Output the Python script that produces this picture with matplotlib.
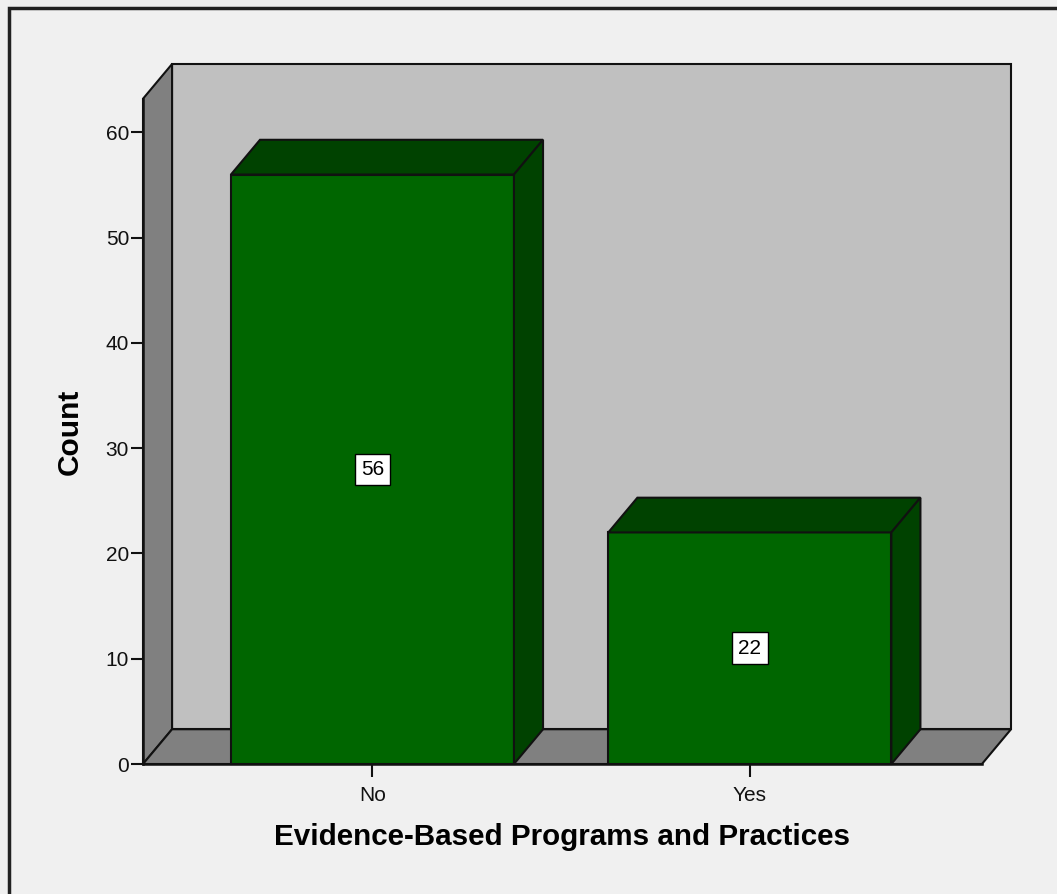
import matplotlib.pyplot as plt
from matplotlib.patches import Polygon, Rectangle
from matplotlib import transforms

plt.rcParams["font.family"] = ["Liberation Sans", "DejaVu Sans"]

categories = ["No", "Yes"]
counts = [56, 22]
y_ticks = [0, 10, 20, 30, 40, 50, 60]
x_label = "Evidence-Based Programs and Practices"
y_label = "Count"

# box geometry in data units
x_lo, x_hi = -0.608, 1.615
y_top = 63.2
dx, dy = 0.077, 3.3
bar_width = 0.75

wall_color = "#c0c0c0"
side_color = "#808080"
bar_front = "#006600"
bar_shade = "#004200"
edge = "#111111"


def face(ax, pts, color, z=1):
    ax.add_patch(Polygon(pts, closed=True, facecolor=color, edgecolor=edge,
                         linewidth=1.5, joinstyle="miter", zorder=z, clip_on=False))


fig = plt.figure(figsize=(10.57, 8.94), dpi=100, facecolor="#f0f0f0")

# outer frame, runs off the right and bottom edges
fig.patches.append(Rectangle((9 / 1057, -0.05), 1.1, 1.05 - 8 / 894,
                             transform=fig.transFigure, fill=False,
                             edgecolor="#222222", linewidth=2.5))

ax = fig.add_axes([143 / 1057, 1 - 764 / 894, (1011 - 143) / 1057, (764 - 64) / 894])
ax.set_facecolor("none")
ax.set_xlim(x_lo, x_hi + dx)
ax.set_ylim(0, y_top + dy)

# back wall, left wall, floor
face(ax, [(x_lo + dx, dy), (x_hi + dx, dy), (x_hi + dx, y_top + dy), (x_lo + dx, y_top + dy)], wall_color)
face(ax, [(x_lo, 0), (x_lo + dx, dy), (x_lo + dx, y_top + dy), (x_lo, y_top)], side_color)
face(ax, [(x_lo, 0), (x_hi, 0), (x_hi + dx, dy), (x_lo + dx, dy)], side_color)

for i, v in enumerate(counts):
    l, r = i - bar_width / 2, i + bar_width / 2
    face(ax, [(l, 0), (r, 0), (r, v), (l, v)], bar_front, 2)
    face(ax, [(l, v), (r, v), (r + dx, v + dy), (l + dx, v + dy)], bar_shade, 2)
    face(ax, [(r, 0), (r + dx, dy), (r + dx, v + dy), (r, v)], bar_shade, 2)
    ax.text(i, v / 2, str(v), ha="center", va="center", fontsize=15, zorder=3,
            bbox=dict(boxstyle="square,pad=0.3", facecolor="white",
                      edgecolor="black", linewidth=1))

for s in ["top", "right"]:
    ax.spines[s].set_visible(False)
ax.spines["left"].set_bounds(0, y_top)
ax.spines["bottom"].set_bounds(x_lo, x_hi)
for s in ["left", "bottom"]:
    ax.spines[s].set_linewidth(1.8)
    ax.spines[s].set_color(edge)
    ax.spines[s].set_zorder(4)

ax.set_yticks(y_ticks)
ax.set_xticks(range(len(categories)))
ax.set_xticklabels(categories)
ax.tick_params(axis="y", length=9, width=1.5, pad=1, labelsize=15, colors="#111111")
ax.tick_params(axis="x", length=9, width=1.5, pad=7, labelsize=15, colors="#111111")

# axis titles centred on the front face of the box
ax.set_xlabel(x_label, fontsize=21.3, fontweight="bold")
ax.xaxis.set_label_coords((x_lo + x_hi) / 2, -0.084,
                          transform=transforms.blended_transform_factory(ax.transData, ax.transAxes))
ax.set_ylabel(y_label, fontsize=21.5, fontweight="bold")
ax.yaxis.set_label_coords(-0.068, y_top / 2,
                          transform=transforms.blended_transform_factory(ax.transAxes, ax.transData))

fig.savefig("out.png", dpi=100, facecolor=fig.get_facecolor())
